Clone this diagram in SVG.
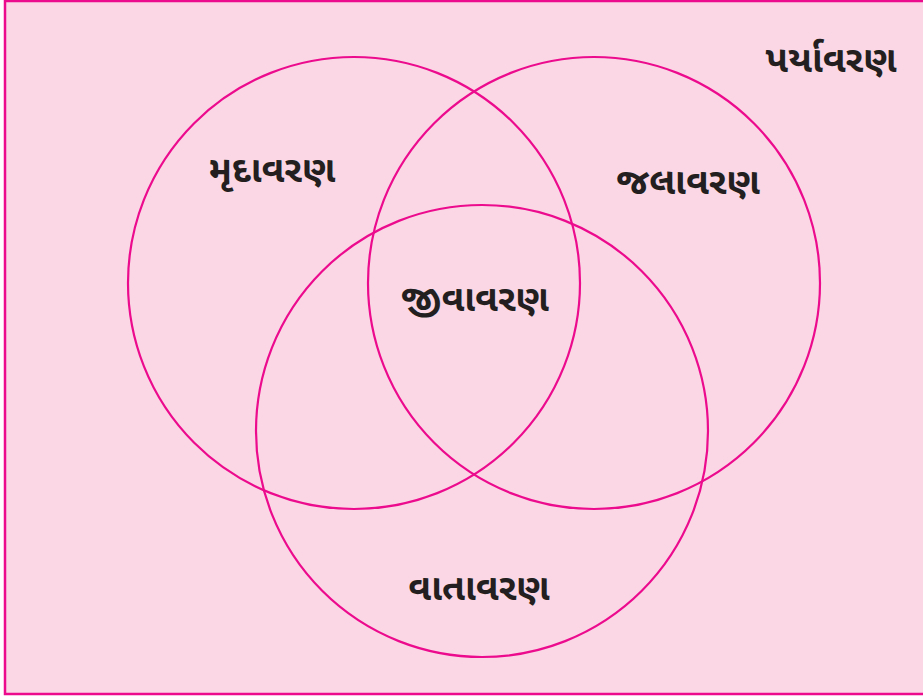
<svg xmlns="http://www.w3.org/2000/svg" width="923" height="697" viewBox="0 0 923 697">
<style>
.bg{fill:#fbd7e6;stroke:#ec0b8d;stroke-width:2.5}
.c{fill:none;stroke:#ec0b8d;stroke-width:2.2}
.t{font-family:"Noto Sans Gujarati","Lohit Gujarati","Noto Sans","DejaVu Sans",sans-serif;font-size:37px;font-weight:bold;fill:#231f20;text-anchor:middle}
</style>
<rect x="0" y="0" width="923" height="697" fill="#ffffff"/>
<rect class="bg" x="5" y="1" width="920" height="693"/>
<g id="connectors">
<circle id="c-mrudavaran" class="c" cx="354" cy="283" r="226"/>
<circle id="c-jalavaran" class="c" cx="594" cy="283" r="226"/>
<circle id="c-vatavaran" class="c" cx="482" cy="431" r="226"/>
</g>
<g id="paryavaran"><text class="t" x="831" y="72">પર્યાવરણ</text></g>
<g id="mrudavaran"><text class="t" x="272" y="182">મૃદાવરણ</text></g>
<g id="jalavaran"><text class="t" x="688" y="194">જલાવરણ</text></g>
<g id="jivavaran"><text class="t" x="475" y="311">જીવાવરણ</text></g>
<g id="vatavaran"><text class="t" x="479" y="600">વાતાવરણ</text></g>
</svg>
